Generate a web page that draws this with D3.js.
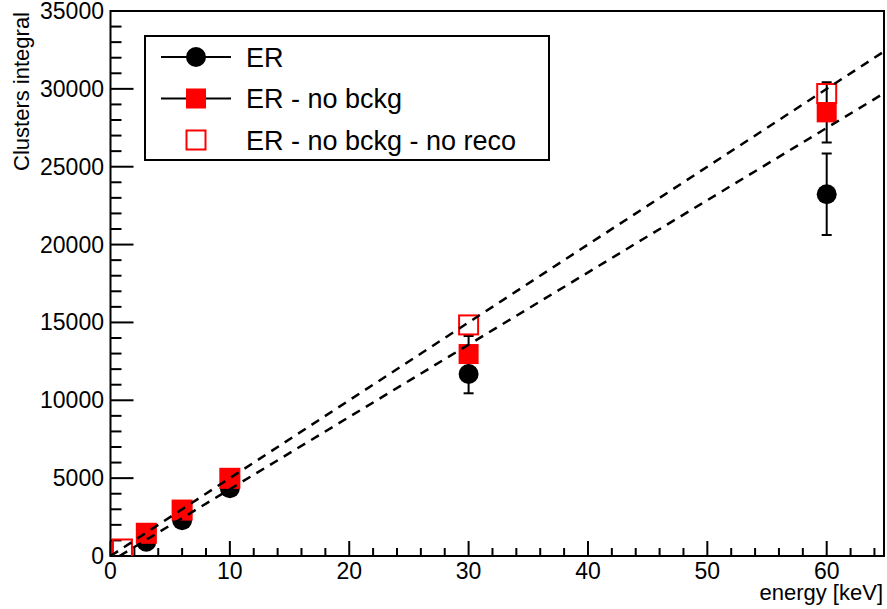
<!DOCTYPE html>
<html>
<head>
<meta charset="utf-8">
<script src="https://cdn.jsdelivr.net/npm/d3@7"></script>
<style>
body { margin:0; background:white; }
text { font-family: "Liberation Sans", Arial, Helvetica, sans-serif; }
</style>
</head>
<body>
<div id="graph"></div>
<script>
const width = 887
const height = 609

// data
var energy = [3, 6, 10, 30, 60];
var erVals = [920, 2300, 4350, 11690, 23230];
var erErrs = [100, 230, 450, 1240, 2620];
var noBckgVals = [1460, 2950, 4990, 12970, 28490];
var noBckgErrs = [120, 240, 400, 1160, 1930];
var noRecoEnergy = [1, 3, 6, 10, 30, 60];
var noRecoVals = [450, 1460, 2950, 4990, 14840, 29700];
// dashed fit lines: [slope, intercept]
var fitUpper = [500, 0];
var fitLower = [464, -350];
var xTicks = [0, 10, 20, 30, 40, 50, 60];
var yTicks = [0, 5000, 10000, 15000, 20000, 25000, 30000, 35000];
var legendLabels = ["ER", "ER - no bckg", "ER - no bckg - no reco"];

var fLeft = 110.5, fRight = 884, fTop = 11, fBottom = 556;

var x = d3.scaleLinear().domain([0, 64.8]).range([fLeft, fRight]);
var y = d3.scaleLinear().domain([0, 35000]).range([fBottom, fTop]);

var svg = d3.select("div#graph")
	.append("svg")
	.attr("width", width)
	.attr("height", height)

svg.append("defs").append("clipPath").attr("id", "frame")
	.append("rect")
	.attr("x", fLeft).attr("y", fTop)
	.attr("width", fRight - fLeft).attr("height", fBottom - fTop)

// frame
svg.append("rect")
	.attr("x", fLeft).attr("y", fTop)
	.attr("width", fRight - fLeft).attr("height", fBottom - fTop)
	.style("fill", "white")
	.style("stroke", "black")
	.style("stroke-width", "2px")

// ticks (inside, left and bottom only)
var xMinor = d3.range(0, 65, 2);
svg.selectAll("line.xminor").data(xMinor).enter().append("line")
	.attr("x1", d => x(d)).attr("x2", d => x(d))
	.attr("y1", fBottom).attr("y2", d => (d % 10 == 0) ? fBottom - 15 : fBottom - 8)
	.style("stroke", "black").style("stroke-width", "2px")
var yMinor = d3.range(0, 35001, 1000);
svg.selectAll("line.yminor").data(yMinor).enter().append("line")
	.attr("y1", d => y(d)).attr("y2", d => y(d))
	.attr("x1", fLeft).attr("x2", d => (d % 5000 == 0) ? fLeft + 23 : fLeft + 11)
	.style("stroke", "black").style("stroke-width", "2px")

svg.selectAll("text.xtick").data(xTicks).enter().append("text")
	.attr("x", d => x(d))
	.attr("y", 579)
	.attr("text-anchor", "middle")
	.style("font-size", "23px")
	.text(d => d)
svg.selectAll("text.ytick").data(yTicks).enter().append("text")
	.attr("x", 104)
	.attr("y", d => y(d) + 8)
	.attr("text-anchor", "end")
	.style("font-size", "23px")
	.text(d => d)

svg.append("text")
	.attr("x", fRight - 1).attr("y", 600)
	.attr("text-anchor", "end")
	.style("font-size", "22px")
	.text("energy [keV]")
svg.append("text")
	.attr("transform", "translate(29 12) rotate(-90)")
	.attr("text-anchor", "end")
	.style("font-size", "22px")
	.text("Clusters integral")

var plot = svg.append("g").attr("clip-path", "url(#frame)")

// error bars
function errorBars(vals, errs, cls) {
	var g = plot.selectAll("g." + cls).data(energy).enter().append("g").attr("class", cls)
	g.append("line")
		.attr("x1", d => x(d)).attr("x2", d => x(d))
		.attr("y1", (d, i) => y(vals[i] - errs[i])).attr("y2", (d, i) => y(vals[i] + errs[i]))
		.style("stroke", "black").style("stroke-width", "2px")
	g.append("line")
		.attr("x1", d => x(d) - 5).attr("x2", d => x(d) + 5)
		.attr("y1", (d, i) => y(vals[i] - errs[i])).attr("y2", (d, i) => y(vals[i] - errs[i]))
		.style("stroke", "black").style("stroke-width", "2px")
	g.append("line")
		.attr("x1", d => x(d) - 5).attr("x2", d => x(d) + 5)
		.attr("y1", (d, i) => y(vals[i] + errs[i])).attr("y2", (d, i) => y(vals[i] + errs[i]))
		.style("stroke", "black").style("stroke-width", "2px")
}
errorBars(erVals, erErrs, "erErr")
errorBars(noBckgVals, noBckgErrs, "nbErr")

plot.selectAll("circle.er").data(energy).enter().append("circle")
	.attr("cx", d => x(d)).attr("cy", (d, i) => y(erVals[i]))
	.attr("r", 10)
	.style("fill", "black")
plot.selectAll("rect.nb").data(energy).enter().append("rect")
	.attr("x", d => x(d) - 10).attr("y", (d, i) => y(noBckgVals[i]) - 10)
	.attr("width", 20).attr("height", 20)
	.style("fill", "red")
plot.selectAll("rect.nr").data(noRecoEnergy).enter().append("rect")
	.attr("x", d => x(d) - 9.5).attr("y", (d, i) => y(noRecoVals[i]) - 9.5)
	.attr("width", 19).attr("height", 19)
	.style("fill", "none")
	.style("stroke", "red")
	.style("stroke-width", "2px")

// fit lines
var line = d3.line().x(d => x(d[0])).y(d => y(d[1]))
;[fitUpper, fitLower].forEach(f => {
	var x0 = Math.max(0, -f[1] / f[0]);
	plot.append("path")
		.attr("d", line([[x0, f[0] * x0 + f[1]], [64.8, f[0] * 64.8 + f[1]]]))
		.style("fill", "none")
		.style("stroke", "black")
		.style("stroke-width", "2.5px")
		.style("stroke-dasharray", "9,7")
})

// legend
var leg = svg.append("g")
leg.append("rect")
	.attr("x", 145).attr("y", 36)
	.attr("width", 404).attr("height", 124)
	.style("fill", "white")
	.style("stroke", "black")
	.style("stroke-width", "2px")
var rows = leg.selectAll("g.row").data(legendLabels).enter().append("g")
	.attr("class", "row")
	.attr("transform", (d, i) => "translate(0 " + (57 + i * 41.5) + ")")
rows.filter((d, i) => i < 2).append("line")
	.attr("x1", 161).attr("x2", 231)
	.style("stroke", "black").style("stroke-width", "2px")
rows.filter((d, i) => i == 0).append("circle")
	.attr("cx", 196).attr("r", 10).style("fill", "black")
rows.filter((d, i) => i == 1).append("rect")
	.attr("x", 186).attr("y", -10).attr("width", 20).attr("height", 20).style("fill", "red")
rows.filter((d, i) => i == 2).append("rect")
	.attr("x", 186.5).attr("y", -9.5).attr("width", 19).attr("height", 19)
	.style("fill", "none").style("stroke", "red").style("stroke-width", "2px")
rows.append("text")
	.attr("x", 246).attr("y", 9.5)
	.style("font-size", "27px")
	.text(d => d)
</script>
</body>
</html>
